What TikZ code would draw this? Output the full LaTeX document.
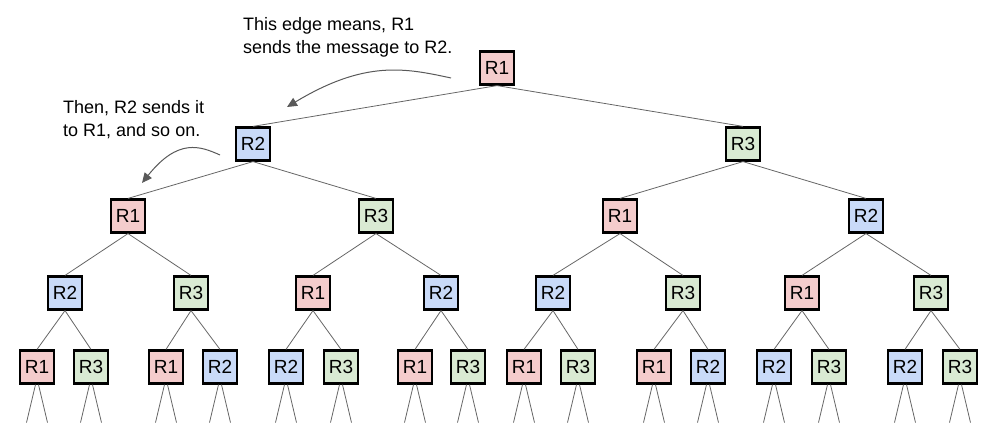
\documentclass[tikz,border=0pt]{standalone}
\usepackage{fontspec}
\setmainfont{Liberation Sans}
\usetikzlibrary{arrows.meta}
\definecolor{rred}{HTML}{F4CCCC}
\definecolor{rblue}{HTML}{C9DAF8}
\definecolor{rgreen}{HTML}{D9EAD3}
\definecolor{edgegray}{HTML}{666666}
\definecolor{arrgray}{HTML}{595959}
\begin{document}
\begin{tikzpicture}[x=1pt,y=-1pt,
  box/.style={draw=black, line width=2.2pt, minimum width=34pt, minimum height=33pt, inner sep=0pt, font=\fontsize{19}{21}\selectfont},
  ra/.style={box, fill=rred},
  rb/.style={box, fill=rblue},
  rc/.style={box, fill=rgreen},
  edge/.style={draw=edgegray, line width=0.8pt},
  note/.style={align=left, inner sep=0pt, anchor=north west, font=\fontsize{18}{23}\selectfont},
  arr/.style={draw=arrgray, line width=1pt, -{Triangle[length=10pt,width=9pt]}}]
\useasboundingbox (0,0) rectangle (1007,438);
% level 0
\node[ra] (n0) at (497,68) {R1};
% level 1
\node[rb] (n1) at (253,144) {R2};
\node[rc] (n2) at (743,144) {R3};
% level 2
\node[ra] (n11) at (128,216) {R1};
\node[rc] (n12) at (376,216) {R3};
\node[ra] (n21) at (620,216) {R1};
\node[rb] (n22) at (866,216) {R2};
% level 3
\node[rb] (m1) at (65,293) {R2};
\node[rc] (m2) at (191,293) {R3};
\node[ra] (m3) at (313,293) {R1};
\node[rb] (m4) at (441,293) {R2};
\node[rb] (m5) at (553,293) {R2};
\node[rc] (m6) at (683,293) {R3};
\node[ra] (m7) at (802,293) {R1};
\node[rc] (m8) at (931,293) {R3};
% level 4
\node[ra] (l1) at (37,367) {R1};
\node[rc] (l2) at (91,367) {R3};
\node[ra] (l3) at (166,367) {R1};
\node[rb] (l4) at (220,367) {R2};
\node[rb] (l5) at (286,367) {R2};
\node[rc] (l6) at (341,367) {R3};
\node[ra] (l7) at (415,367) {R1};
\node[rc] (l8) at (468,367) {R3};
\node[ra] (l9) at (524,367) {R1};
\node[rc] (l10) at (578,367) {R3};
\node[ra] (l11) at (654,367) {R1};
\node[rb] (l12) at (708,367) {R2};
\node[rb] (l13) at (774,367) {R2};
\node[rc] (l14) at (829,367) {R3};
\node[rb] (l15) at (905,367) {R2};
\node[rc] (l16) at (960,367) {R3};
% edges
\foreach \p/\c in {n0/n1,n0/n2,n1/n11,n1/n12,n2/n21,n2/n22,
  n11/m1,n11/m2,n12/m3,n12/m4,n21/m5,n21/m6,n22/m7,n22/m8,
  m1/l1,m1/l2,m2/l3,m2/l4,m3/l5,m3/l6,m4/l7,m4/l8,
  m5/l9,m5/l10,m6/l11,m6/l12,m7/l13,m7/l14,m8/l15,m8/l16}
  \draw[edge] (\p.south) -- (\c.north);
% leaf stubs
\foreach \l in {l1,l2,l3,l4,l5,l6,l7,l8,l9,l10,l11,l12,l13,l14,l15,l16}{
  \draw[edge] ([xshift=-1.5pt]\l.south) -- ++(-9,38);
  \draw[edge] ([xshift=1.5pt]\l.south) -- ++(9,38);
}
% annotations
\node[note] (t1) at (243,17) {This edge means, R1\\sends the message to R2.};
\node[note] (t2) at (63,100) {Then, R2 sends it\\to R1, and so on.};
\coordinate (a1s) at (451,78);
\coordinate (a1e) at (287,107);
\coordinate (a2s) at (220,155);
\coordinate (a2e) at (142,183);
\draw[arr] (a1s) .. controls (405,68) and (365,60) .. (a1e);
\draw[arr] (a2s) .. controls (200,146) and (178,138) .. (a2e);
\end{tikzpicture}
\end{document}
